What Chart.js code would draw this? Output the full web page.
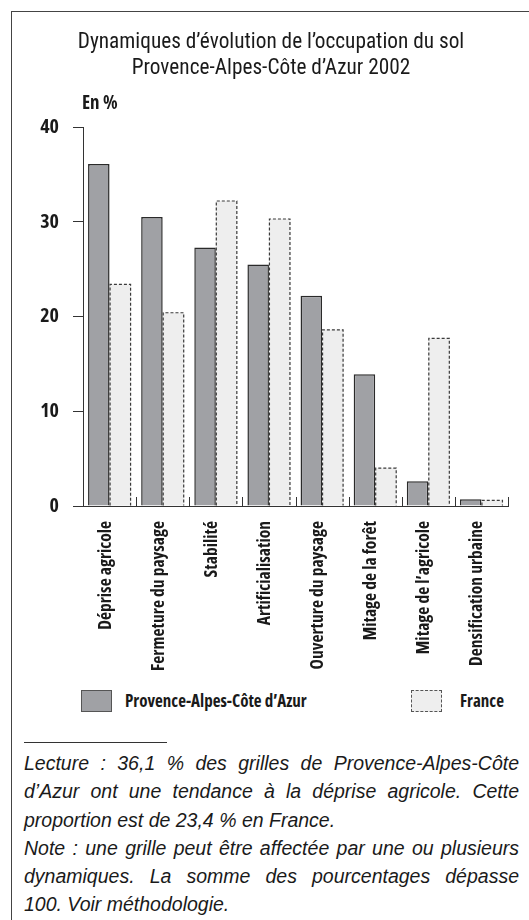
<!DOCTYPE html>
<html>
<head>
<meta charset="utf-8">
<title>Dynamiques d'évolution de l'occupation du sol</title>
<script src="https://cdn.jsdelivr.net/npm/chart.js"></script>
<style>
  body { margin: 0; background: #fff; width: 529px; height: 920px; overflow: hidden; position: relative; font-family: "Liberation Sans", Arial, sans-serif; color: #1a1a1a; }
  #frame { position: absolute; left: 11px; top: 11px; width: 600px; height: 1000px; border-top: 1.5px solid #444; border-left: 1.5px solid #444; }
  #wrap { position: absolute; left: 0; top: 0; width: 529px; height: 680px; }
  .legend { position: absolute; top: 690px; font-family: "Open Sans", sans-serif; font-weight: bold; font-stretch: condensed; font-size: 17px; }
  .legend .box { position: absolute; top: 0; width: 31px; height: 22px; box-sizing: border-box; }
  .legend .lbl { position: absolute; top: 0; white-space: nowrap; line-height: 22px; }
  #rule { position: absolute; left: 24px; top: 742px; width: 143px; border-top: 1px solid #333; }
  #note { position: absolute; left: 24px; top: 749px; width: 495px; font-style: italic; font-size: 19.5px; line-height: 28.3px; }
  #note .j { text-align: justify; text-align-last: justify; }
</style>
</head>
<body>
<div id="frame"></div>
<div id="wrap"><canvas id="chart" width="529" height="680"></canvas></div>

<div class="legend">
  <div class="box" style="left:81px; background:#a0a1a5; border:1px solid #555;"></div>
  <div class="lbl" style="left:125px;">Provence-Alpes-Côte d’Azur</div>
  <div class="box" style="left:411px; background:#eeeeee; border:1px dashed #555;"></div>
  <div class="lbl" style="left:460px;">France</div>
</div>

<div id="rule"></div>
<div id="note">
  <div class="j">Lecture : 36,1 % des grilles de Provence-Alpes-Côte</div>
  <div class="j">d’Azur ont une tendance à la déprise agricole. Cette</div>
  <div>proportion est de 23,4 % en France.</div>
  <div class="j">Note : une grille peut être affectée par une ou plusieurs</div>
  <div class="j">dynamiques. La somme des pourcentages dépasse</div>
  <div>100. Voir méthodologie.</div>
</div>

<script>
  const categories = ["Déprise agricole", "Fermeture du paysage", "Stabilité", "Artificialisation",
    "Ouverture du paysage", "Mitage de la forêt", "Mitage de l’agricole", "Densification urbaine"];
  const paca = [36.1, 30.5, 27.3, 25.5, 22.2, 13.9, 2.6, 0.7];
  const france = [23.4, 20.4, 32.2, 30.3, 18.6, 4.0, 17.7, 0.6];
  const yTicks = [0, 10, 20, 30, 40];
  const seriesNames = ["Provence-Alpes-Côte d’Azur", "France"];

  const boldNarrow = { family: '"Open Sans", sans-serif', weight: "bold condensed" };

  // France bars have a dashed outline, Chart.js has no borderDash for bars
  const dashedOutline = {
    id: "dashedOutline",
    afterDatasetsDraw(chart) {
      const ctx = chart.ctx;
      ctx.save();
      ctx.strokeStyle = "#3a3a3a";
      ctx.lineWidth = 1.2;
      ctx.setLineDash([3, 2]);
      chart.getDatasetMeta(1).data.forEach(bar => {
        const { x, y, base, width } = bar.getProps(["x", "y", "base", "width"], true);
        const l = x - width / 2 + 0.5, r = x + width / 2 - 0.5;
        ctx.beginPath();
        ctx.moveTo(l, base);
        ctx.lineTo(l, y);
        ctx.lineTo(r, y);
        ctx.lineTo(r, base);
        ctx.stroke();
      });
      ctx.restore();
    }
  };

  // short upward ticks between categories + "En %" unit label
  const extras = {
    id: "extras",
    afterDraw(chart) {
      const ctx = chart.ctx;
      const xs = chart.scales.x;
      const base = chart.chartArea.bottom;
      const half = (xs.getPixelForValue(1) - xs.getPixelForValue(0)) / 2;
      ctx.save();
      ctx.strokeStyle = "#333";
      ctx.lineWidth = 1;
      categories.forEach((c, i) => {
        const px = Math.round(xs.getPixelForValue(i) + half) + 0.5;
        ctx.beginPath();
        ctx.moveTo(px, base);
        ctx.lineTo(px, base - 9);
        ctx.stroke();
      });
      ctx.fillStyle = "#1a1a1a";
      ctx.font = 'bold condensed 19px "Open Sans", sans-serif';
      ctx.textAlign = "left";
      ctx.textBaseline = "middle";
      ctx.fillText("En %", chart.chartArea.left - 1, 104);
      ctx.restore();
    }
  };

  new Chart(document.getElementById("chart"), {
    type: "bar",
    data: {
      labels: categories,
      datasets: [
        { label: seriesNames[0], data: paca, backgroundColor: "#a0a1a5", borderColor: "#2a2a2a", borderWidth: 1.5 },
        { label: seriesNames[1], data: france, backgroundColor: "#eeeeee", borderWidth: 0 }
      ]
    },
    options: {
      responsive: false,
      animation: false,
      categoryPercentage: 0.81,
      barPercentage: 1,
      layout: { padding: { left: 34, right: 21, top: 12, bottom: 0 } },
      plugins: {
        legend: { display: false },
        tooltip: { enabled: false },
        title: {
          display: true,
          text: ["Dynamiques d’évolution de l’occupation du sol", "Provence-Alpes-Côte d’Azur 2002"],
          color: "#1a1a1a",
          font: { family: '"Roboto Condensed", sans-serif', size: 21.3, weight: "normal", lineHeight: 1.2 },
          padding: { top: 18, bottom: 46 }
        }
      },
      scales: {
        x: {
          grid: { display: false },
          border: { display: true, color: "#333", width: 1 },
          ticks: {
            autoSkip: false, minRotation: 90, maxRotation: 90, padding: 7, labelOffset: -4,
            color: "#1a1a1a", font: { ...boldNarrow, size: 17.5 }
          },
          afterFit(scale) { scale.height = 174; }
        },
        y: {
          min: 0, max: 40,
          afterBuildTicks(scale) { scale.ticks = yTicks.map(v => ({ value: v })); },
          grid: { drawOnChartArea: false, drawTicks: true, tickLength: 10, color: "#333" },
          border: { display: true, color: "#333", width: 1 },
          ticks: { padding: 14, color: "#1a1a1a", font: { ...boldNarrow, size: 20 } },
          afterFit(scale) { scale.width = 49; }
        }
      }
    },
    plugins: [dashedOutline, extras]
  });
</script>
</body>
</html>
